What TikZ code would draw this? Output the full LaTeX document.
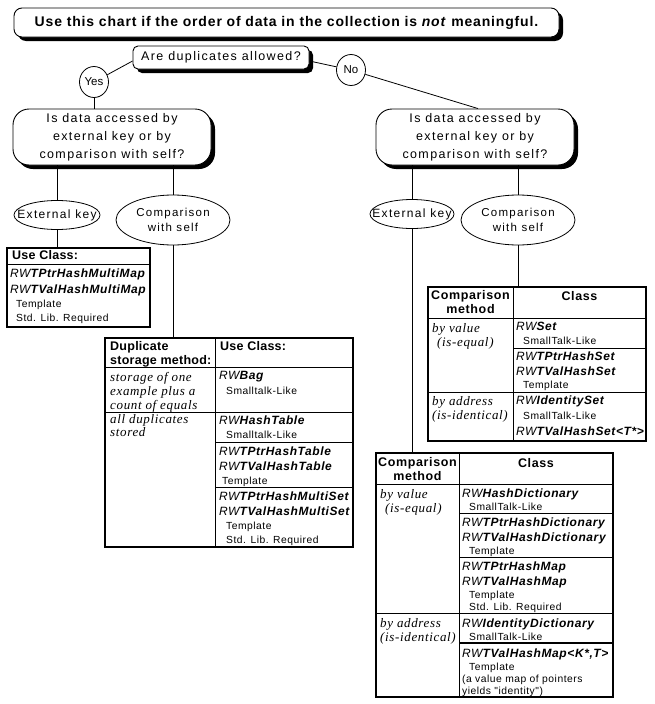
\documentclass[tikz,border=0pt]{standalone}
\usepackage{fontspec}
\setmainfont{Liberation Sans}
\newfontfamily\spc[LetterSpace=11]{Liberation Sans}
\newfontfamily\spcb[LetterSpace=5]{Liberation Sans}
\newfontfamily\spct[LetterSpace=6]{Liberation Sans}
\newfontfamily\spch[LetterSpace=2]{Liberation Sans}
\newfontfamily\serit[LetterSpace=5]{Liberation Serif}
\usetikzlibrary{shapes.geometric,shadows}
\newcommand{\cls}[2]{{\itshape #1\bfseries #2}}
\begin{document}
\begin{tikzpicture}[x=1pt,y=-1pt,
  every node/.style={inner sep=0pt},
  shbox/.style={draw, fill=white, line width=0.9pt,
    general shadow={fill=black, shadow xshift=4pt, shadow yshift=-4pt}},
  oval/.style={draw, ellipse, line width=0.8pt, fill=white},
  tbl/.style={draw, line width=1.1pt, rectangle},
  ln/.style={line width=0.8pt},
  rule/.style={line width=0.9pt},
  cn/.style={anchor=base west, font=\fontsize{12}{14}\selectfont\spcb},
  sm/.style={anchor=base west, font=\fontsize{10.3}{12}\selectfont\spcb},
  hd/.style={anchor=base west, font=\fontsize{12.5}{14}\selectfont\spch\bfseries},
  hc/.style={anchor=base, font=\fontsize{12.5}{14}\selectfont\spcb\bfseries},
  ser/.style={anchor=base west, font=\fontsize{13}{15}\selectfont\serit\itshape},
  otxt/.style={font=\fontsize{11.5}{15}\selectfont\spc, align=center},
  ktxt/.style={font=\fontsize{12}{15}\selectfont\spc},
]
\useasboundingbox (0,0) rectangle (654,704);

% title and top question
\node[shbox, rounded corners=8pt, minimum width=545pt, minimum height=29pt] (title) at (286.5,22.5)
  {\fontsize{14}{16}\selectfont\spct\bfseries Use this chart if the order of data in the collection is \textit{not} meaningful.};
\node[shbox, rounded corners=5pt, minimum width=176pt, minimum height=23pt] (dup) at (221,57.5)
  {\fontsize{12.5}{14}\selectfont\spc Are duplicates allowed?};
\node[oval, minimum width=29pt, minimum height=31pt] (yes) at (94,82) {\fontsize{11.5}{13}\selectfont Yes};
\node[oval, minimum width=29pt, minimum height=31pt] (no) at (351,70) {\fontsize{11.5}{13}\selectfont No};

% second level questions
\node[shbox, rounded corners=16pt, minimum width=198pt, minimum height=56pt, align=center,
  font=\fontsize{12.5}{18}\selectfont\spc] (qL) at (112,137) {Is data accessed by\\external key or by\\comparison with self?};
\node[shbox, rounded corners=16pt, minimum width=198pt, minimum height=56pt, align=center,
  font=\fontsize{12.5}{18}\selectfont\spc] (qR) at (475,137) {Is data accessed by\\external key or by\\comparison with self?};

% ellipses
\node[oval, minimum width=86pt, minimum height=29pt] (extL) at (57,215) {};
\node[ktxt] at (extL) {External key};
\node[oval, minimum width=114pt, minimum height=50pt] (cmpL) at (173,220) {};
\node[otxt] at (cmpL) {Comparison\\with self};
\node[oval, minimum width=84pt, minimum height=29pt] (extR) at (412,214) {};
\node[ktxt] at (extR) {External key};
\node[oval, minimum width=114pt, minimum height=50pt] (cmpR) at (518,220) {};
\node[otxt] at (cmpR) {Comparison\\with self};

% tables (outer frames)
\node[tbl, minimum width=143pt, minimum height=79pt] (useT) at (78.5,287.5) {};
\node[tbl, minimum width=248pt, minimum height=209pt] (dupT) at (229,442.5) {};
\node[tbl, minimum width=218pt, minimum height=154pt] (setT) at (537,364) {};
\node[tbl, minimum width=237pt, minimum height=244pt] (dicT) at (494.5,575) {};

% connectors
\draw[ln] ([yshift=-3.5pt]dup.west) -- (yes);
\draw[ln] (yes) -- (yes |- qL.north);
\draw[ln] ([yshift=-3.5pt]dup.east) -- (no);
\draw[ln] (no) -- ([xshift=3pt]qR.north);
\draw[ln] (extL |- qL.south) -- (extL);
\draw[ln] (cmpL |- qL.south) -- (cmpL);
\draw[ln] (extR |- qR.south) -- (extR);
\draw[ln] (cmpR |- qR.south) -- (cmpR);
\draw[ln] (extL) -- (extL |- useT.north);
\draw[ln] (cmpL) -- (cmpL |- dupT.north);
\draw[ln] (cmpR) -- (cmpR |- setT.north);
\draw[ln] (extR) -- (extR |- dicT.north);

% ---- Use Class table
\draw[rule] (7,264) -- (150,264);
\node[hd] at (12,259) {Use Class:};
\node[cn] at (10,277) {\cls{RW}{TPtrHashMultiMap}};
\node[cn] at (10,293) {\cls{RW}{TValHashMultiMap}};
\node[sm] at (16,307) {Template};
\node[sm] at (16,321) {Std. Lib. Required};

% ---- Duplicate storage table
\draw[rule] (215,338) -- (215,547);
\draw[rule] (105,367) -- (353,367);
\draw[rule] (105,412) -- (353,412);
\draw[rule] (215,442) -- (353,442);
\draw[rule] (215,487) -- (353,487);
\node[hd] at (110,350) {Duplicate};
\node[hd] at (110,364) {storage method:};
\node[hd] at (220,350) {Use Class:};
\node[ser] at (110,381) {storage of one};
\node[ser] at (110,395) {example plus a};
\node[ser] at (110,409) {count of equals};
\node[cn] at (219,379) {\cls{RW}{Bag}};
\node[sm] at (226,394) {Smalltalk-Like};
\node[ser] at (110,423) {all duplicates};
\node[ser] at (110,436) {stored};
\node[cn] at (219,424) {\cls{RW}{HashTable}};
\node[sm] at (226,438) {Smalltalk-Like};
\node[cn] at (219,455) {\cls{RW}{TPtrHashTable}};
\node[cn] at (219,470) {\cls{RW}{TValHashTable}};
\node[sm] at (222,484) {Template};
\node[cn] at (219,500) {\cls{RW}{TPtrHashMultiSet}};
\node[cn] at (219,515) {\cls{RW}{TValHashMultiSet}};
\node[sm] at (226,529) {Template};
\node[sm] at (226,543) {Std. Lib. Required};

% ---- Set table
\draw[rule] (513,287) -- (513,441);
\draw[rule] (428,318) -- (646,318);
\draw[rule] (513,348) -- (646,348);
\draw[rule] (428,392) -- (646,392);
\node[hc] at (470.5,299) {Comparison};
\node[hc] at (470.5,313) {method};
\node[hc] at (579.5,300) {Class};
\node[ser] at (432,332) {by value};
\node[ser] at (437,346) {(is-equal)};
\node[cn] at (516,330) {\cls{RW}{Set}};
\node[sm] at (523,344) {SmallTalk-Like};
\node[cn] at (516,360) {\cls{RW}{TPtrHashSet}};
\node[cn] at (516,375) {\cls{RW}{TValHashSet}};
\node[sm] at (523,388) {Template};
\node[ser] at (432,405) {by address};
\node[ser] at (432,419) {(is-identical)};
\node[cn] at (516,404) {\cls{RW}{IdentitySet}};
\node[sm] at (523,419) {SmallTalk-Like};
\node[cn] at (516,435) {\cls{RW}{TValHashSet<T*>}};

% ---- Dictionary table
\draw[rule] (459,453) -- (459,697);
\draw[rule] (376,484) -- (613,484);
\draw[rule] (459,513) -- (613,513);
\draw[rule] (459,557) -- (613,557);
\draw[rule] (376,613) -- (613,613);
\draw[line width=1.6pt] (459,643) -- (613,643);
\node[hc] at (417.5,466) {Comparison};
\node[hc] at (417.5,480) {method};
\node[hc] at (536,467) {Class};
\node[ser] at (380,498) {by value};
\node[ser] at (385,512) {(is-equal)};
\node[cn] at (462,497) {\cls{RW}{HashDictionary}};
\node[sm] at (469,510) {SmallTalk-Like};
\node[cn] at (462,526) {\cls{RW}{TPtrHashDictionary}};
\node[cn] at (462,541) {\cls{RW}{TValHashDictionary}};
\node[sm] at (469,554) {Template};
\node[cn] at (462,570) {\cls{RW}{TPtrHashMap}};
\node[cn] at (462,585) {\cls{RW}{TValHashMap}};
\node[sm] at (469,598) {Template};
\node[sm] at (469,610) {Std. Lib. Required};
\node[ser] at (380,627) {by address};
\node[ser] at (380,641) {(is-identical)};
\node[cn] at (462,627) {\cls{RW}{IdentityDictionary}};
\node[sm] at (469,640) {SmallTalk-Like};
\node[cn] at (462,657) {\cls{RW}{TValHashMap<K*,T>}};
\node[sm] at (469,670) {Template};
\node[sm] at (462,682) {(a value map of pointers};
\node[sm] at (462,694) {yields "identity")};
\end{tikzpicture}
\end{document}
